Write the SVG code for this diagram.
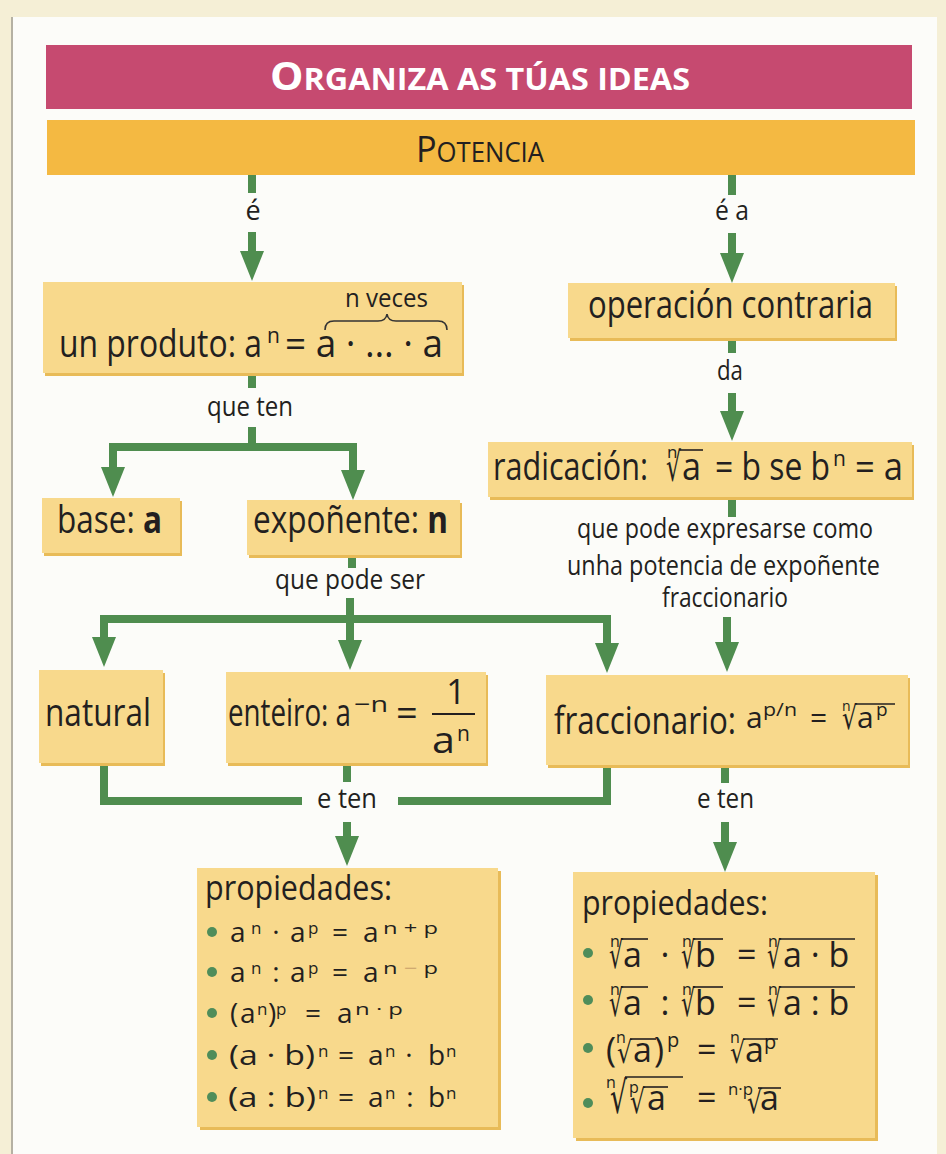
<svg xmlns="http://www.w3.org/2000/svg" width="946" height="1154" viewBox="0 0 946 1154">
<style>
text{font-family:"Open Sans","Noto Sans","DejaVu Sans",sans-serif;fill:#231f20}
.r{font-family:"DejaVu Sans",sans-serif}
.box{fill:#f8d98c}
.sh{fill:#e8bb58}
.conn path{stroke:#4f8d4f;stroke-width:8;fill:none}
.v{stroke:#231f20;stroke-width:1.6}
.bul{fill:#4f8d5a}
</style>
<defs>
<marker id="ah" markerUnits="userSpaceOnUse" markerWidth="30" markerHeight="24" refX="8" refY="12" orient="auto" viewBox="0 0 30 24"><path d="M0,0 L30,12 L0,24 z" fill="#4f8d4f"/></marker>
</defs>
<rect width="946" height="1154" fill="#f5efd6"/>
<rect x="12" y="17" width="925" height="1137" fill="#fcfcf9"/>
<line x1="12" y1="17" x2="12" y2="1154" stroke="#b5b1a3" stroke-width="2"/>

<g id="title">
<rect x="46" y="45" width="866" height="64" fill="#c64a70"/>
<text x="270" y="90" textLength="420" lengthAdjust="spacingAndGlyphs" font-weight="700" style="fill:#fff"><tspan font-size="39">O</tspan><tspan font-size="30">RGANIZA AS TÚAS IDEAS</tspan></text>
</g>

<g id="potencia">
<rect x="47" y="120" width="868" height="55" fill="#f4b942"/>
<text x="416" y="162" textLength="128" lengthAdjust="spacingAndGlyphs"><tspan font-size="36">P</tspan><tspan font-size="27">OTENCIA</tspan></text>
</g>

<g class="conn">
<path d="M252,175 V193"/>
<path d="M252,232 V259" marker-end="url(#ah)"/>
<path d="M732,175 V195"/>
<path d="M732,233 V261" marker-end="url(#ah)"/>
<path d="M252,373 V388"/>
<path d="M252,427 V447"/>
<path d="M252,447 H113 V475" marker-end="url(#ah)"/>
<path d="M252,447 H353 V478" marker-end="url(#ah)"/>
<path d="M732,338 V353"/>
<path d="M732,393 V419" marker-end="url(#ah)"/>
<path d="M352,555 V568"/>
<path d="M350,598 V619"/>
<path d="M350,619 H104 V645" marker-end="url(#ah)"/>
<path d="M350,619 V648" marker-end="url(#ah)"/>
<path d="M350,619 H607 V651" marker-end="url(#ah)"/>
<path d="M732,497 V517"/>
<path d="M727,617 V650" marker-end="url(#ah)"/>
<path d="M104,763 V801 H302"/>
<path d="M398,801 H607 V765"/>
<path d="M347,763 V782"/>
<path d="M347,822 V844" marker-end="url(#ah)"/>
<path d="M725,765 V783"/>
<path d="M725,822 V850" marker-end="url(#ah)"/>
</g>

<g id="labels">
<text x="253" y="220" font-size="27" text-anchor="middle">é</text>
<text x="715" y="220" font-size="27" textLength="34" lengthAdjust="spacingAndGlyphs">é a</text>
<text x="207" y="416" font-size="27" textLength="86" lengthAdjust="spacingAndGlyphs">que ten</text>
<text x="717" y="380" font-size="27" textLength="26" lengthAdjust="spacingAndGlyphs">da</text>
<text x="275" y="589" font-size="27" textLength="150" lengthAdjust="spacingAndGlyphs">que pode ser</text>
<text x="577" y="538" font-size="27" textLength="296" lengthAdjust="spacingAndGlyphs">que pode expresarse como</text>
<text x="567" y="575" font-size="27" textLength="313" lengthAdjust="spacingAndGlyphs">unha potencia de expoñente</text>
<text x="662" y="607" font-size="27" textLength="126" lengthAdjust="spacingAndGlyphs">fraccionario</text>
<text x="317" y="808" font-size="27" textLength="60" lengthAdjust="spacingAndGlyphs">e ten</text>
<text x="697" y="808" font-size="27" textLength="57" lengthAdjust="spacingAndGlyphs">e ten</text>
</g>

<g id="produto">
<rect class="sh" x="45" y="285" width="419" height="91"/>
<rect class="box" x="43" y="282" width="419" height="91"/>
<text x="345" y="307" font-size="26" textLength="83" lengthAdjust="spacingAndGlyphs">n veces</text>
<path d="M325,330 Q325,321 334,321 L378,321 Q386,321 387,314 Q388,321 396,321 L438,321 Q447,321 447,330" fill="none" stroke="#333" stroke-width="1.6"/>
<text x="59" y="357" font-size="38" textLength="203" lengthAdjust="spacingAndGlyphs">un produto: a</text>
<text x="267" y="343" font-size="21">n</text>
<text x="285" y="357" font-size="38" textLength="158" lengthAdjust="spacingAndGlyphs">= a · … · a</text>
</g>

<g id="base">
<rect class="sh" x="44" y="501" width="138" height="55"/>
<rect class="box" x="42" y="498" width="138" height="55"/>
<text x="57" y="533" font-size="38" textLength="105" lengthAdjust="spacingAndGlyphs">base: <tspan font-weight="700">a</tspan></text>
</g>

<g id="expoñente">
<rect class="sh" x="249" y="503" width="213" height="55"/>
<rect class="box" x="247" y="500" width="213" height="55"/>
<text x="253" y="533" font-size="38" textLength="195" lengthAdjust="spacingAndGlyphs">expoñente: <tspan font-weight="700">n</tspan></text>
</g>

<g id="operacion">
<rect class="sh" x="570" y="286" width="327" height="55"/>
<rect class="box" x="568" y="283" width="327" height="55"/>
<text x="588" y="318" font-size="38" textLength="285" lengthAdjust="spacingAndGlyphs">operación contraria</text>
</g>

<g id="radicacion">
<rect class="sh" x="490" y="445" width="424" height="55"/>
<rect class="box" x="488" y="442" width="424" height="55"/>
<text x="493" y="480" font-size="38" textLength="155" lengthAdjust="spacingAndGlyphs">radicación:</text>
<text x="667" y="458" font-size="17">n</text>
<text class="r" x="666" y="481" font-size="40" textLength="15" lengthAdjust="spacingAndGlyphs">√</text>
<line class="v" x1="679" y1="450" x2="703" y2="450"/>
<text x="682" y="480" font-size="38" textLength="19" lengthAdjust="spacingAndGlyphs">a</text>
<text x="715" y="480" font-size="38" textLength="115" lengthAdjust="spacingAndGlyphs">= b se b</text>
<text x="833" y="466" font-size="21">n</text>
<text x="855" y="480" font-size="38" textLength="48" lengthAdjust="spacingAndGlyphs">= a</text>
</g>

<g id="natural">
<rect class="sh" x="41" y="673" width="124" height="93"/>
<rect class="box" x="39" y="670" width="124" height="93"/>
<text x="45" y="726" font-size="38" textLength="106" lengthAdjust="spacingAndGlyphs">natural</text>
</g>

<g id="enteiro">
<rect class="sh" x="228" y="675" width="260" height="91"/>
<rect class="box" x="226" y="672" width="260" height="91"/>
<text x="228" y="726" font-size="38" textLength="123" lengthAdjust="spacingAndGlyphs">enteiro: a</text>
<text x="354" y="712" font-size="22" textLength="34" lengthAdjust="spacingAndGlyphs">−n</text>
<text x="396" y="726" font-size="38">=</text>
<text x="456" y="704" font-size="34" text-anchor="middle">1</text>
<line x1="432" y1="714" x2="475" y2="714" stroke="#231f20" stroke-width="2"/>
<text x="432" y="753" font-size="36" textLength="23" lengthAdjust="spacingAndGlyphs">a</text>
<text x="457" y="741" font-size="21">n</text>
</g>

<g id="fraccionario">
<rect class="sh" x="548" y="678" width="362" height="90"/>
<rect class="box" x="546" y="675" width="362" height="90"/>
<text x="554" y="734" font-size="38" textLength="182" lengthAdjust="spacingAndGlyphs">fraccionario:</text>
<text x="746" y="728" font-size="30">a</text>
<text x="763" y="716" font-size="19" textLength="34" lengthAdjust="spacingAndGlyphs">p/n</text>
<text x="810" y="728" font-size="30">=</text>
<text x="842" y="711" font-size="14">n</text>
<text class="r" x="842" y="729" font-size="32" textLength="15" lengthAdjust="spacingAndGlyphs">√</text>
<line class="v" x1="855" y1="704" x2="895" y2="704"/>
<text x="857" y="728" font-size="30">a</text>
<text x="876" y="716" font-size="19">p</text>
</g>

<g id="propiedades-potencia">
<rect class="sh" x="200" y="871" width="301" height="259"/>
<rect class="box" x="197" y="868" width="301" height="259"/>
<text x="205" y="900" font-size="34" textLength="187" lengthAdjust="spacingAndGlyphs">propiedades:</text>
<circle class="bul" cx="212" cy="932" r="5"/>
<circle class="bul" cx="212" cy="972" r="5"/>
<circle class="bul" cx="212" cy="1013" r="5"/>
<circle class="bul" cx="212" cy="1055" r="5"/>
<circle class="bul" cx="212" cy="1097" r="5"/>
<text x="230" y="942" font-size="28">a</text>
<text x="251" y="934" font-size="17">n</text>
<text x="276" y="942" font-size="28" text-anchor="middle">·</text>
<text x="290" y="942" font-size="28">a</text>
<text x="308" y="934" font-size="17">p</text>
<text x="332" y="942" font-size="28">=</text>
<text x="363" y="942" font-size="28">a</text>
<text x="383" y="934" font-size="17" textLength="55" lengthAdjust="spacingAndGlyphs">n + p</text>

<text x="230" y="982" font-size="28">a</text>
<text x="251" y="974" font-size="17">n</text>
<text x="276" y="982" font-size="28" text-anchor="middle">:</text>
<text x="290" y="982" font-size="28">a</text>
<text x="308" y="974" font-size="17">p</text>
<text x="332" y="982" font-size="28">=</text>
<text x="363" y="982" font-size="28">a</text>
<text x="383" y="974" font-size="17" textLength="55" lengthAdjust="spacingAndGlyphs">n <tspan style="fill:#c9a06a">−</tspan> p</text>

<text x="230" y="1023" font-size="28">(</text>
<text x="240" y="1023" font-size="28">a</text>
<text x="257" y="1015" font-size="17">n</text>
<text x="268" y="1023" font-size="28">)</text>
<text x="276" y="1015" font-size="17">p</text>
<text x="305" y="1023" font-size="28">=</text>
<text x="337" y="1023" font-size="28">a</text>
<text x="355" y="1015" font-size="17" textLength="48" lengthAdjust="spacingAndGlyphs">n · p</text>

<text x="229" y="1065" font-size="28" textLength="86" lengthAdjust="spacingAndGlyphs">(a · b)</text>
<text x="318" y="1057" font-size="17">n</text>
<text x="338" y="1065" font-size="28">=</text>
<text x="368" y="1065" font-size="28">a</text>
<text x="385" y="1057" font-size="17">n</text>
<text x="409" y="1065" font-size="28" text-anchor="middle">·</text>
<text x="428" y="1065" font-size="28">b</text>
<text x="446" y="1057" font-size="17">n</text>

<text x="228" y="1107" font-size="28" textLength="88" lengthAdjust="spacingAndGlyphs">(a : b)</text>
<text x="318" y="1099" font-size="17">n</text>
<text x="338" y="1107" font-size="28">=</text>
<text x="368" y="1107" font-size="28">a</text>
<text x="385" y="1099" font-size="17">n</text>
<text x="410" y="1107" font-size="28" text-anchor="middle">:</text>
<text x="428" y="1107" font-size="28">b</text>
<text x="446" y="1099" font-size="17">n</text>
</g>

<g id="propiedades-radicacion">
<rect class="sh" x="576" y="875" width="302" height="266"/>
<rect class="box" x="573" y="872" width="302" height="266"/>
<text x="582" y="915" font-size="34" textLength="186" lengthAdjust="spacingAndGlyphs">propiedades:</text>
<circle class="bul" cx="588" cy="953" r="5"/>
<circle class="bul" cx="588" cy="1000" r="5"/>
<circle class="bul" cx="588" cy="1048" r="5"/>
<circle class="bul" cx="588" cy="1103" r="5"/>

<text x="610" y="947" font-size="16">n</text>
<text class="r" x="609" y="968" font-size="37" textLength="14" lengthAdjust="spacingAndGlyphs">√</text>
<line class="v" x1="621" y1="939" x2="648" y2="939"/>
<text x="623" y="967" font-size="34">a</text>
<text x="665" y="967" font-size="34" text-anchor="middle">·</text>
<text x="682" y="947" font-size="16">n</text>
<text class="r" x="681" y="968" font-size="37" textLength="14" lengthAdjust="spacingAndGlyphs">√</text>
<line class="v" x1="693" y1="939" x2="723" y2="939"/>
<text x="695" y="967" font-size="34">b</text>
<text x="737" y="967" font-size="34">=</text>
<text x="768" y="947" font-size="16">n</text>
<text class="r" x="767" y="968" font-size="37" textLength="14" lengthAdjust="spacingAndGlyphs">√</text>
<line class="v" x1="779" y1="939" x2="855" y2="939"/>
<text x="783" y="967" font-size="34">a · b</text>

<text x="610" y="995" font-size="16">n</text>
<text class="r" x="609" y="1016" font-size="37" textLength="14" lengthAdjust="spacingAndGlyphs">√</text>
<line class="v" x1="621" y1="987" x2="648" y2="987"/>
<text x="623" y="1015" font-size="34">a</text>
<text x="665" y="1015" font-size="34" text-anchor="middle">:</text>
<text x="682" y="995" font-size="16">n</text>
<text class="r" x="681" y="1016" font-size="37" textLength="14" lengthAdjust="spacingAndGlyphs">√</text>
<line class="v" x1="693" y1="987" x2="723" y2="987"/>
<text x="695" y="1015" font-size="34">b</text>
<text x="737" y="1015" font-size="34">=</text>
<text x="768" y="995" font-size="16">n</text>
<text class="r" x="767" y="1016" font-size="37" textLength="14" lengthAdjust="spacingAndGlyphs">√</text>
<line class="v" x1="779" y1="987" x2="855" y2="987"/>
<text x="783" y="1015" font-size="34">a : b</text>

<text x="606" y="1062" font-size="34">(</text>
<text x="616" y="1043" font-size="16">n</text>
<text class="r" x="617" y="1063" font-size="30" textLength="15" lengthAdjust="spacingAndGlyphs">√</text>
<line class="v" x1="630" y1="1039" x2="656" y2="1039"/>
<text x="633" y="1062" font-size="34">a</text>
<text x="654" y="1062" font-size="34">)</text>
<text x="667" y="1047" font-size="20">p</text>
<text x="697" y="1062" font-size="34">=</text>
<text x="730" y="1043" font-size="16">n</text>
<text class="r" x="730" y="1063" font-size="30" textLength="15" lengthAdjust="spacingAndGlyphs">√</text>
<line class="v" x1="743" y1="1039" x2="778" y2="1039"/>
<text x="745" y="1062" font-size="34">a</text>
<text x="764" y="1049" font-size="20">p</text>

<text x="606" y="1088" font-size="16">n</text>
<text class="r" x="610" y="1113" font-size="44" textLength="17" lengthAdjust="spacingAndGlyphs">√</text>
<line class="v" x1="625" y1="1077" x2="683" y2="1077"/>
<text x="629" y="1093" font-size="16">p</text>
<text class="r" x="630" y="1113" font-size="33" textLength="15" lengthAdjust="spacingAndGlyphs">√</text>
<line class="v" x1="643" y1="1087" x2="668" y2="1087"/>
<text x="647" y="1110" font-size="34">a</text>
<text x="697" y="1110" font-size="34">=</text>
<text x="728" y="1095" font-size="16" textLength="25" lengthAdjust="spacingAndGlyphs">n·p</text>
<text class="r" x="747" y="1113" font-size="31" textLength="15" lengthAdjust="spacingAndGlyphs">√</text>
<line class="v" x1="758" y1="1088" x2="781" y2="1088"/>
<text x="760" y="1110" font-size="34">a</text>
</g>
</svg>
